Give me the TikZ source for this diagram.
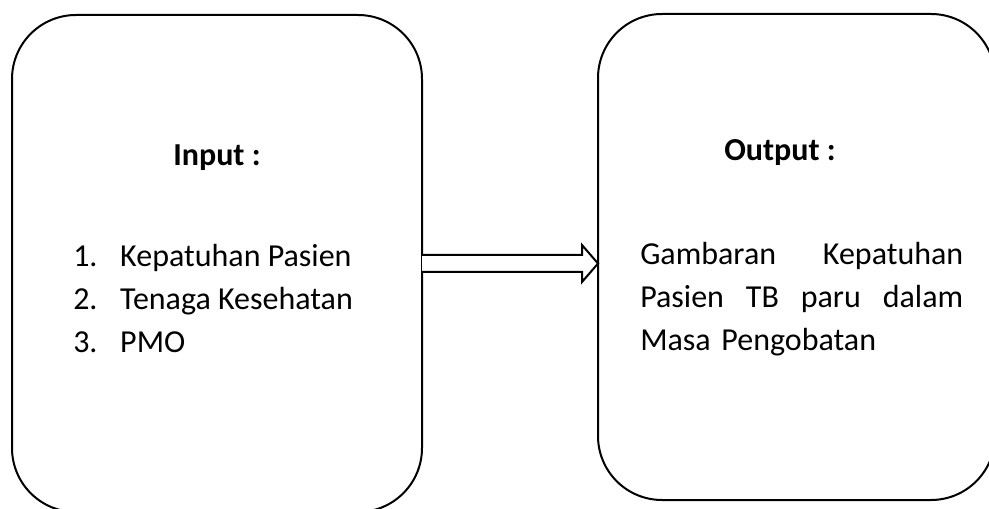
\documentclass[tikz,border=0pt]{standalone}
\usepackage{fontspec}
\setmainfont{Carlito}
\usetikzlibrary{calc}

\begin{document}
\begin{tikzpicture}[x=0.75pt,y=0.75pt,yscale=-1,xscale=1,
  panel/.style={draw, line width=1.5pt, rounded corners=48pt, inner sep=0pt, outer sep=0pt},
  label/.style={font=\fontsize{24}{32.25}\selectfont, inner sep=0pt},
  hollowarrow/.style={draw, line width=1.5pt, line join=miter, fill=white}]
\useasboundingbox (0,0) rectangle (989,509);

\node [panel, minimum width=307.5pt, minimum height=372.75pt] (inbox) at (217,263.5) {};
\node [panel, minimum width=297.75pt, minimum height=364.5pt] (outbox) at (796.5,257) {};

\coordinate (tip) at (outbox.west|-inbox.east);
\draw [hollowarrow] ($(inbox.east)+(0,-8.5)$) -- ($(tip)+(-16,-8.5)$) -- ($(tip)+(-16,-18.5)$) -- (tip)
  -- ($(tip)+(-16,18.5)$) -- ($(tip)+(-16,8.5)$) -- ($(inbox.east)+(0,8.5)$) ;

\node [label, font=\fontsize{24}{32.25}\selectfont\bfseries] (intitle) at (217,158) {Input :};
\node [label, anchor=west, align=left] (inlist) at (73,299) {\makebox[35.25pt][l]{1.}Kepatuhan Pasien\\
  \makebox[35.25pt][l]{2.}Tenaga Kesehatan\\
  \makebox[35.25pt][l]{3.}PMO};

\node [label, font=\fontsize{24}{32.25}\selectfont\bfseries] (outtitle) at (780,153) {Output :};
\node [label, anchor=west, text width=242.25pt, align=left] (outtext) at (640,299) {Gambaran\hfill Kepatuhan\\
  Pasien\hfill TB\hfill paru\hfill dalam\\
  Masa Pengobatan};

\end{tikzpicture}
\end{document}
